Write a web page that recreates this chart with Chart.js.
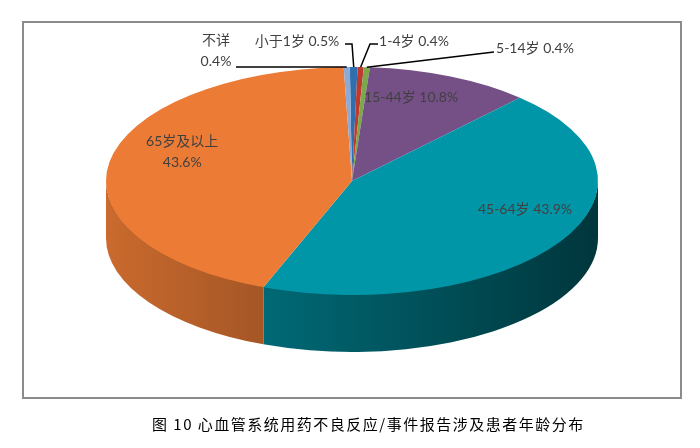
<!DOCTYPE html>
<html>
<head>
<meta charset="utf-8">
<script src="https://cdn.jsdelivr.net/npm/chart.js@4.4.1/dist/chart.umd.min.js"></script>
<style>
    html, body { margin: 0; padding: 0; background: #fff; }
    #wrap { position: relative; width: 700px; height: 448px; overflow: hidden; }
    #frame { position: absolute; left: 22px; top: 21px; width: 656px; height: 374px; border: 2px solid #8c8c8c; }
    #ageChart { position: absolute; left: 0; top: 0; }
    #caption {
        position: absolute; left: 152px; top: 413px; white-space: nowrap;
        font: 15px "Noto Sans CJK SC", sans-serif; letter-spacing: 1.5px; color: #000;
    }
</style>
</head>
<body>
<div id="wrap">
    <div id="frame"></div>
    <canvas id="ageChart" width="700" height="448"></canvas>
    <div id="caption">图 10 心血管系统用药不良反应/事件报告涉及患者年龄分布</div>
</div>
<script>
// =============================================
// DATA
// =============================================
const categories = ['小于1岁', '1-4岁', '5-14岁', '15-44岁', '45-64岁', '65岁及以上', '不详'];
const percents = [0.5, 0.4, 0.4, 10.8, 43.9, 43.6, 0.4];
const sliceColors = ['#2F6FAE', '#C0392F', '#7AA84A', '#755086', '#0096A7', '#EB7B35', '#8EA9D4'];

// =============================================
// LAYOUT (label placement, depth of the 3D rim)
// =============================================
const DEPTH = 57;          // height of the pie's side wall
const LABEL_FONT = '14px Lato, "Noto Sans CJK SC", sans-serif';
const LABEL_COLOR = '#404040';

// inside labels: radial fraction along the slice mid angle (null = outside label)
const labelFrac = [null, null, null, 0.60, 0.83, 0.70, null];
// perspective shift (upwards) for inside labels
const labelLift = [0, 0, 0, 21, 22, 16, 0];
// labels split over two lines
const twoLines = [false, false, false, false, false, true, true];
// outside labels: text centre and leader-line waypoints (the line ends on the slice)
const outsideLabels = {
    0: { x: 297, y: 41, path: [[345, 44], [352, 44]] },
    1: { x: 414, y: 41, path: [[378, 44], [370, 44]] },
    2: { x: 535, y: 48, path: [[494, 52]] },
    6: { x: 216, y: 41, path: [[236, 67]] }
};

function shade(hex, f) {
    const n = parseInt(hex.slice(1), 16);
    const r = Math.round(((n >> 16) & 255) * f);
    const g = Math.round(((n >> 8) & 255) * f);
    const b = Math.round((n & 255) * f);
    return `rgb(${r},${g},${b})`;
}

// geometry of the stretched (elliptical) pie
function pieGeom(chart) {
    const arcs = chart.getDatasetMeta(0).data;
    const area = chart.chartArea;
    const ry = arcs[0].outerRadius;
    return { arcs, cx: arcs[0].x, cy: arcs[0].y, rx: area.width / 2, ry };
}

// Draws the side wall, then stretches the top face into an ellipse
const pie3d = {
    id: 'pie3d',
    beforeDatasetsDraw(chart) {
        const ctx = chart.ctx;
        const { arcs, cx, cy, rx, ry } = pieGeom(chart);
        ctx.save();
        arcs.forEach((arc, i) => {
            const grad = ctx.createLinearGradient(cx - rx, 0, cx + rx, 0);
            grad.addColorStop(0, shade(sliceColors[i], 0.86));
            grad.addColorStop(1, shade(sliceColors[i], 0.36));
            for (let n = -1; n <= 1; n++) {
                const lo = Math.max(arc.startAngle, 2 * Math.PI * n);
                const hi = Math.min(arc.endAngle, Math.PI + 2 * Math.PI * n);
                if (hi <= lo) continue;
                ctx.beginPath();
                ctx.ellipse(cx, cy - 1, rx, ry, 0, lo, hi);
                ctx.ellipse(cx, cy + DEPTH, rx, ry, 0, hi, lo, true);
                ctx.closePath();
                ctx.fillStyle = grad;
                ctx.fill();
            }
        });
        ctx.translate(cx, 0);
        ctx.scale(rx / ry, 1);
        ctx.translate(-cx, 0);
    },
    afterDatasetsDraw(chart) {
        chart.ctx.restore();
    }
};

// Data labels and leader lines
const pieLabels = {
    id: 'pieLabels',
    afterDraw(chart) {
        const ctx = chart.ctx;
        const { arcs, cx, cy, rx, ry } = pieGeom(chart);
        ctx.save();
        ctx.font = LABEL_FONT;
        ctx.fillStyle = LABEL_COLOR;
        ctx.textAlign = 'center';
        ctx.textBaseline = 'middle';

        arcs.forEach((arc, i) => {
            const mid = (arc.startAngle + arc.endAngle) / 2;
            const pct = percents[i].toFixed(1) + '%';
            const lines = twoLines[i] ? [categories[i], pct] : [categories[i] + ' ' + pct];
            let x, y;
            if (labelFrac[i] !== null) {
                x = cx + rx * labelFrac[i] * Math.cos(mid);
                y = cy - labelLift[i] + ry * labelFrac[i] * Math.sin(mid);
            } else {
                const spec = outsideLabels[i];
                x = spec.x;
                y = spec.y + (twoLines[i] ? 10 : 0);
                // leader line from label to slice edge
                ctx.beginPath();
                ctx.strokeStyle = '#000';
                ctx.lineWidth = 1.5;
                spec.path.forEach((p, k) => k ? ctx.lineTo(p[0], p[1]) : ctx.moveTo(p[0], p[1]));
                ctx.lineTo(cx + rx * Math.cos(mid), cy + ry * Math.sin(mid));
                ctx.stroke();
            }
            const lh = 21;
            lines.forEach((t, k) => {
                ctx.fillText(t, x, y + (k - (lines.length - 1) / 2) * lh);
            });
        });
        ctx.restore();
    }
};

new Chart(document.getElementById('ageChart'), {
    type: 'pie',
    data: {
        labels: categories,
        datasets: [{
            data: percents,
            backgroundColor: sliceColors,
            borderWidth: 0,
            offset: 0,
            hoverOffset: 0,
            clip: false
        }]
    },
    options: {
        responsive: false,
        animation: false,
        rotation: -0.5,
        layout: {
            padding: { left: 106, right: 102, top: 67, bottom: 153 }
        },
        plugins: {
            legend: { display: false },
            tooltip: { enabled: false }
        },
        events: []
    },
    plugins: [pie3d, pieLabels]
});
</script>
</body>
</html>
